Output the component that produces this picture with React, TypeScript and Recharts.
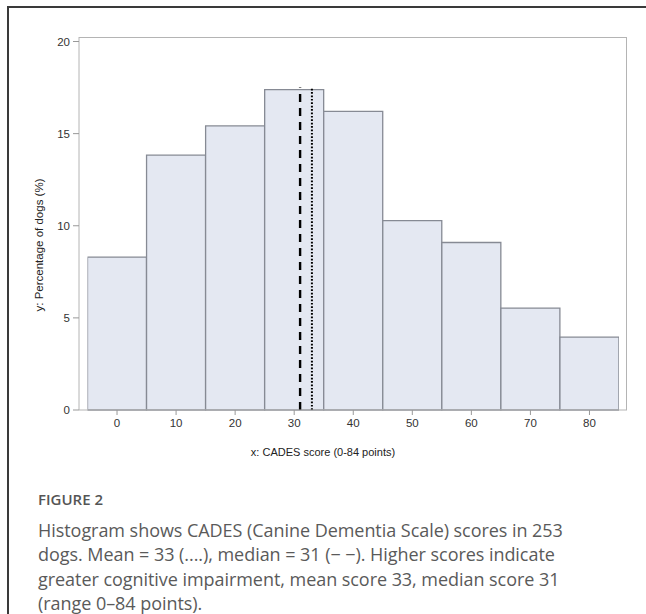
import React from 'react';
import { ComposedChart, Bar, XAxis, YAxis, ReferenceLine } from 'recharts';

// Histogram bins (centre of each 10-point bin) and share of dogs per bin
const binCenters = [0, 10, 20, 30, 40, 50, 60, 70, 80];
const percentDogs = [8.3, 13.83, 15.42, 17.39, 16.21, 10.28, 9.09, 5.53, 3.95];
const xTicks = [0, 10, 20, 30, 40, 50, 60, 70, 80];
const yTicks = [0, 5, 10, 15, 20];
const meanScore = 33;
const medianScore = 31;
const markerTop = 17.5;

const data = binCenters.map((bin, i) => ({ bin, pct: percentDogs[i] }));

const frameGray = '#b4b4b4';
const axisFont = 'Liberation Sans, Arial, sans-serif';
const tickFont = { fontSize: 11.5, fill: '#333', fontFamily: axisFont };

const captionLines = [
  'Histogram shows CADES (Canine Dementia Scale) scores in 253',
  'dogs. Mean = 33 (....), median = 31 (\u2212 \u2212). Higher scores indicate',
  'greater cognitive impairment, mean score 33, median score 31',
  '(range 0\u201384 points).',
];

const App: React.FC = () => {
  return (
    <div style={{ position: 'absolute', left: 0, top: 0, width: 646, height: 614, overflow: 'hidden', background: '#fff' }}>
      {/* figure box */}
      <div
        style={{
          position: 'absolute', left: 7, top: 6, width: 639, height: 608, boxSizing: 'border-box',
          borderLeft: '2px solid #3a3a3a', borderTop: '2px solid #3a3a3a',
        }}
      />

      <div style={{ position: 'absolute', left: 0, top: 0 }}>
        <ComposedChart
          width={646}
          height={480}
          data={data}
          margin={{ top: 37, right: 19, bottom: 0, left: 0 }}
          barCategoryGap={0}
          barGap={0}
        >
          <XAxis
            dataKey="bin"
            type="number"
            domain={[-5, 85]}
            ticks={xTicks}
            allowDataOverflow
            padding={{ left: 8.5, right: 8 }}
            height={70}
            tickSize={5}
            tickMargin={4}
            tick={tickFont}
            stroke={frameGray}
            tickLine={{ stroke: '#999' }}
          />
          <YAxis
            type="number"
            domain={[0, 20]}
            ticks={yTicks}
            padding={{ top: 4.5, bottom: 0 }}
            width={79}
            tickSize={6}
            tickMargin={3}
            tick={tickFont}
            stroke={frameGray}
            tickLine={{ stroke: '#999' }}
          />
          <Bar
            dataKey="pct"
            fill="#e4e8f2"
            stroke="#868a94"
            strokeWidth={1.3}
            isAnimationActive={false}
          />
          <ReferenceLine
            segment={[{ x: medianScore, y: 0 }, { x: medianScore, y: markerTop }]}
            stroke="#000"
            strokeWidth={2.4}
            strokeDasharray="8 6"
          />
          <ReferenceLine
            segment={[{ x: meanScore, y: 0 }, { x: meanScore, y: markerTop }]}
            stroke="#000"
            strokeWidth={2}
            strokeDasharray="1.7 1.7"
          />
        </ComposedChart>
      </div>

      {/* plot frame */}
      <div
        style={{
          position: 'absolute', left: 79, top: 37, width: 548, height: 373, boxSizing: 'border-box',
          borderTop: `1px solid ${frameGray}`, borderRight: `1.5px solid ${frameGray}`, pointerEvents: 'none',
        }}
      />

      {/* axis titles */}
      <div
        style={{
          position: 'absolute', left: 323, top: 452, transform: 'translate(-50%, -50%)',
          whiteSpace: 'nowrap', fontSize: 11, color: '#222', fontFamily: axisFont,
        }}
      >
        x: CADES score (0-84 points)
      </div>
      <div
        style={{
          position: 'absolute', left: 39, top: 245, transform: 'translate(-50%, -50%) rotate(-90deg)',
          whiteSpace: 'nowrap', fontSize: 11.5, color: '#222', fontFamily: axisFont,
        }}
      >
        y: Percentage of dogs (%)
      </div>

      {/* caption */}
      <div
        style={{
          position: 'absolute', left: 38, top: 490, fontFamily: '"Open Sans", sans-serif', fontWeight: 600,
          fontSize: 15, color: '#555', lineHeight: '19px', whiteSpace: 'nowrap',
        }}
      >
        FIGURE 2
      </div>
      <div
        style={{
          position: 'absolute', left: 38, top: 518, fontFamily: '"Open Sans", sans-serif', fontWeight: 400,
          fontSize: 18, letterSpacing: -0.05, color: '#5a5a5a', lineHeight: '24.3px', whiteSpace: 'nowrap',
        }}
      >
        {captionLines.map((line) => (
          <div key={line}>{line}</div>
        ))}
      </div>
    </div>
  );
};

export default App;
